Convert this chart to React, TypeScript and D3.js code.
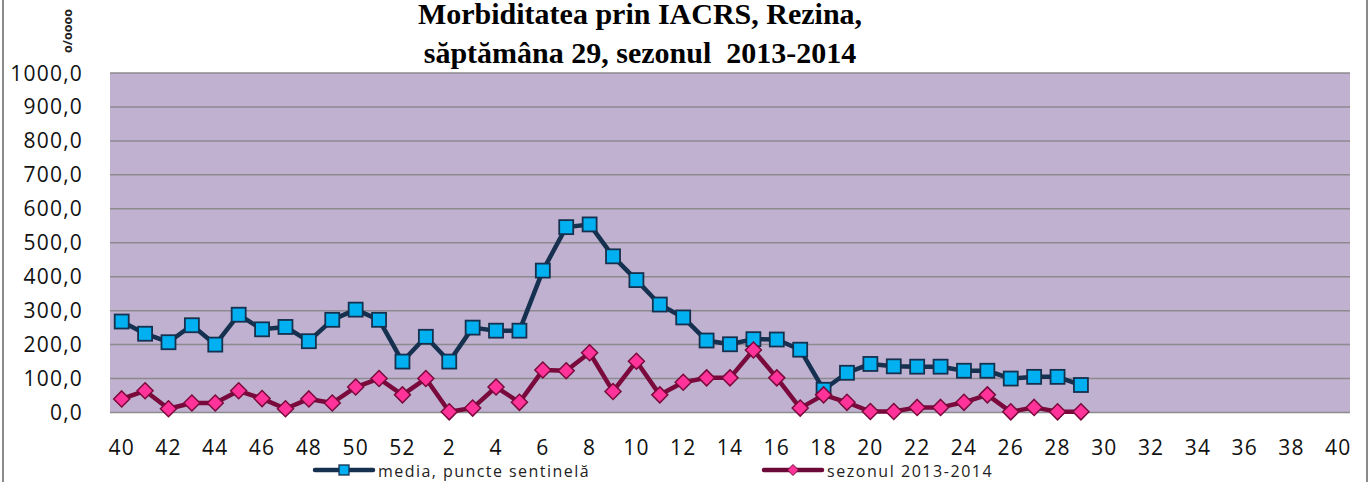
import React from 'react';
import * as d3 from 'd3';

// weeks of the season, 40..52 then 1..40
const weeks = [
  40, 41, 42, 43, 44, 45, 46, 47, 48, 49, 50, 51, 52,
  1, 2, 3, 4, 5, 6, 7, 8, 9, 10, 11, 12, 13, 14, 15, 16, 17, 18, 19, 20,
  21, 22, 23, 24, 25, 26, 27, 28, 29, 30, 31, 32, 33, 34, 35, 36, 37, 38, 39, 40,
];

// media, puncte sentinelă (weeks 40 .. 29)
const media = [
  268, 232, 207, 257, 200, 288, 245, 252, 210, 273, 303, 273, 150,
  223, 150, 250, 241, 241, 418, 546, 554, 460, 390, 318, 280, 212, 201, 216, 215, 185,
  67, 117, 143, 136, 135, 135, 123, 123, 100, 105, 105, 81,
];

// sezonul 2013-2014 (weeks 40 .. 29)
const sezon = [
  40, 64, 11, 28, 28, 64, 41, 11, 40, 28, 75, 100, 52,
  100, 2, 13, 75, 30, 125, 123, 176, 62, 151, 52, 89, 102, 102, 184, 102, 13,
  52, 30, 3, 3, 15, 15, 30, 52, 2, 15, 2, 2,
];

const yTicks = [0, 100, 200, 300, 400, 500, 600, 700, 800, 900, 1000];

const W = 1370;
const H = 482;
const plot = { left: 110, right: 1350, top: 73, bottom: 412.5 };

const tickFont = "'Open Sans', sans-serif";

export default function App() {
  const x = d3
    .scaleBand<number>()
    .domain(weeks.map((_, i) => i))
    .range([plot.left, plot.right])
    .padding(0);
  const cx = (i: number) => (x(i) as number) + x.bandwidth() / 2;
  const y = d3.scaleLinear().domain([0, 1000]).range([plot.bottom, plot.top]);

  const line = d3
    .line<number>()
    .x((_, i) => cx(i))
    .y(d => y(d));

  const fmt = (v: number) => v.toFixed(1).replace('.', ',');
  const diamond = (s: number) => `M0,${-s} L${s},0 L0,${s} L${-s},0 Z`;

  return (
    <svg
      width={W}
      height={H}
      style={{ position: 'absolute', left: 0, top: 0, background: '#fff' }}
    >
      {/* outer frame */}
      <line x1={3} x2={3} y1={0} y2={H} stroke="#8a8a8a" strokeWidth={2} />
      <line x1={1367} x2={1367} y1={0} y2={H} stroke="#8a8a8a" strokeWidth={2} />

      {/* title */}
      <text
        x={640}
        textAnchor="middle"
        fontFamily="'Liberation Serif', 'Times New Roman', serif"
        fontWeight="bold"
        fontSize={30}
        fill="#000"
        style={{ whiteSpace: 'pre' }}
      >
        <tspan x={640} y={24}>Morbiditatea prin IACRS, Rezina,</tspan>
        <tspan x={640} y={63}>{'săptămâna 29, sezonul  2013-2014'}</tspan>
      </text>

      {/* y axis unit */}
      <text
        transform="translate(72,31) rotate(-90)"
        textAnchor="middle"
        fontFamily={tickFont}
        fontWeight="bold"
        fontSize={12.5}
        fill="#222"
      >
        o/oooo
      </text>

      {/* plot area */}
      <rect
        x={plot.left}
        y={plot.top}
        width={plot.right - plot.left}
        height={plot.bottom - plot.top}
        fill="#c0b1d1"
      />
      {yTicks.map(t => (
        <g key={t}>
          <line
            x1={plot.left}
            x2={plot.right}
            y1={y(t)}
            y2={y(t)}
            stroke="#8c8a8e"
            strokeWidth={1.5}
          />
          <text
            x={83}
            y={y(t) + 7.5}
            textAnchor="end"
            fontFamily={tickFont}
            fontSize={21}
            letterSpacing={1.2}
            fill="#111"
          >
            {fmt(t)}
          </text>
        </g>
      ))}

      {/* x ticks */}
      {weeks.map((w, i) =>
        i % 2 === 0 ? (
          <text
            key={i}
            x={cx(i)}
            y={455}
            textAnchor="middle"
            fontFamily={tickFont}
            fontSize={21}
            letterSpacing={1.2}
            fill="#111"
          >
            {w}
          </text>
        ) : null
      )}

      {/* media series */}
      <path d={line(media) || ''} fill="none" stroke="#15314f" strokeWidth={4.5} strokeLinejoin="round" />
      {media.map((v, i) => (
        <rect
          key={i}
          x={cx(i) - 7}
          y={y(v) - 7}
          width={14}
          height={14}
          fill="#00b0f0"
          stroke="#15314f"
          strokeWidth={1.8}
        />
      ))}

      {/* sezon series */}
      <path d={line(sezon) || ''} fill="none" stroke="#7a0a3c" strokeWidth={4.5} strokeLinejoin="round" />
      {sezon.map((v, i) => (
        <path
          key={i}
          d={diamond(8)}
          transform={`translate(${cx(i)},${y(v)})`}
          fill="#ff3399"
          stroke="#7a0a3c"
          strokeWidth={1.5}
        />
      ))}

      {/* legend */}
      <g>
        <line x1={315} x2={373} y1={470} y2={470} stroke="#15314f" strokeWidth={4.5} strokeLinecap="round" />
        <rect x={339} y={465} width={10} height={10} fill="#00b0f0" stroke="#15314f" strokeWidth={1.3} />
        <text x={378} y={476.5} fontFamily={tickFont} fontSize={16} letterSpacing={1.45} fill="#222">
          media, puncte sentinelă
        </text>
        <line x1={764} x2={822} y1={470} y2={470} stroke="#6b0a38" strokeWidth={4.5} strokeLinecap="round" />
        <path d={diamond(5.5)} transform="translate(793,470)" fill="#ff3399" stroke="#6b0a38" strokeWidth={1} />
        <text x={827} y={476.5} fontFamily={tickFont} fontSize={16} letterSpacing={1.55} fill="#222">
          sezonul 2013-2014
        </text>
      </g>
    </svg>
  );
}
